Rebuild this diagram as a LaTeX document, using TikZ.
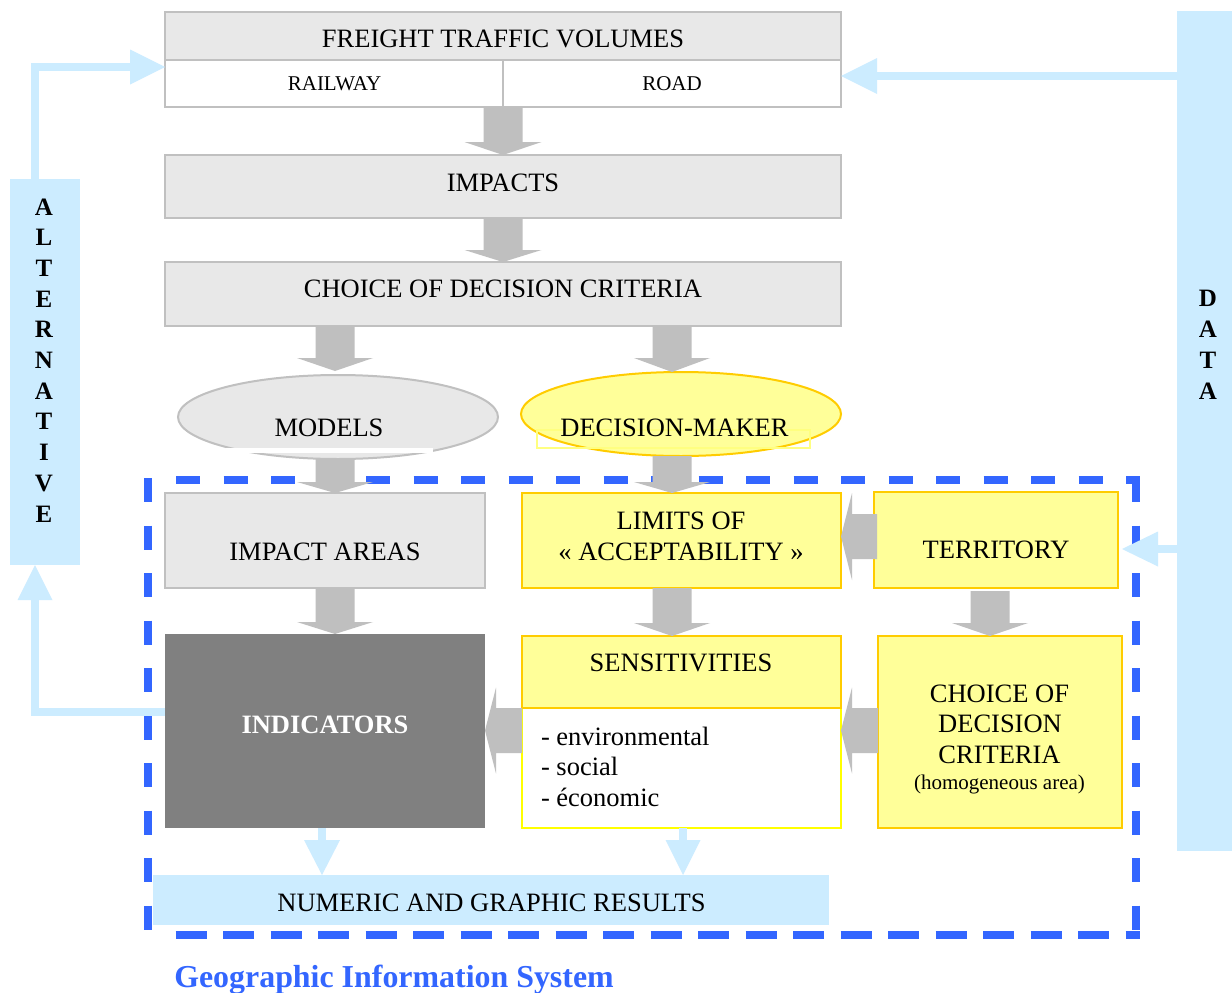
\documentclass[tikz,border=0pt]{standalone}
\usepackage{fontspec}
\setmainfont{Liberation Serif}
\usetikzlibrary{shapes.geometric,calc}
\definecolor{boxgray}{HTML}{E8E8E8}
\definecolor{bordergray}{HTML}{C0C0C0}
\definecolor{arrowgray}{HTML}{BFBFBF}
\definecolor{yel}{HTML}{FFFF99}
\definecolor{yelborder}{HTML}{FFCC00}
\definecolor{yelline}{HTML}{FFFF00}
\definecolor{lblue}{HTML}{CCECFF}
\definecolor{dblue}{HTML}{3366FF}
\definecolor{indgray}{HTML}{808080}
\definecolor{paleyel}{HTML}{FFFF80}
\newcommand\fmain{\fontsize{26.5}{31}\selectfont}
\newcommand\fsmall{\fontsize{21}{25}\selectfont}
\newcommand\fletter{\fontsize{25}{30}\selectfont\bfseries}
\newcommand\blockdown[5]{%
  \fill[arrowgray] let \p1=(#1), \p2=(#2) in
   (\x1-#3/2,\y1) -- (\x1-#3/2,\y2+#5) -- (\x1-#4/2,\y2+#5) -- (\x1,\y2) --
   (\x1+#4/2,\y2+#5) -- (\x1+#3/2,\y2+#5) -- (\x1+#3/2,\y1) -- cycle;}
\newcommand\blockleft[5]{%
  \fill[arrowgray] let \p1=(#1), \p2=(#2) in
   (\x1,\y1+#3/2) -- (\x2+#5,\y1+#3/2) -- (\x2+#5,\y1+#4/2) -- (\x2,\y1) --
   (\x2+#5,\y1-#4/2) -- (\x2+#5,\y1-#3/2) -- (\x1,\y1-#3/2) -- cycle;}
\newcommand\bluehead[3]{%
  \fill[lblue] ($(#1)!#3!90:(#2)$) -- (#2) -- ($(#1)!#3!-90:(#2)$) -- cycle;}
\begin{document}
\begin{tikzpicture}[x=1pt,y=-1pt,
  box/.style={rectangle, inner sep=0pt, outer sep=0pt, line width=2pt},
  graybox/.style={box, draw=bordergray, fill=boxgray},
  whitebox/.style={box, draw=bordergray, fill=white},
  yelbox/.style={box, draw=yelborder, fill=yel},
  bluebar/.style={box, fill=lblue},
  txt/.style={inner sep=0pt, outer sep=0pt, anchor=base, font=\fmain},
  stxt/.style={txt, font=\fsmall},
  blueline/.style={draw=lblue, line width=8pt},
  gisdash/.style={draw=dblue, line width=8pt, dash pattern=on 24pt off 23.5pt},
]
\useasboundingbox (0,0) rectangle (1232,993);
\fill[white] (0,0) rectangle (1232,993);

% GIS dashed frame
\draw[gisdash] (176,480) -- (1140,480);
\draw[gisdash] (148,478) -- (148,939);
\draw[gisdash] (1136,478) -- (1136,939);
\draw[draw=dblue, line width=8pt, dash pattern=on 31pt off 16.5pt] (175.5,935) -- (1140,935);

% side bars
\node[bluebar, minimum width=70, minimum height=386] (alt) at (45,372) {};
\node[bluebar, minimum width=55, minimum height=840] (data) at (1204.5,431) {};

% boxes
\node[graybox, minimum width=676, minimum height=48] (freight) at (503,36) {};
\node[whitebox, minimum width=338, minimum height=47] (railway) at (334,83.5) {};
\node[whitebox, minimum width=338, minimum height=47] (road) at (672,83.5) {};
\node[graybox, minimum width=676, minimum height=63] (impacts) at (503,186.5) {};
\node[graybox, minimum width=676, minimum height=64] (choice) at (503,294) {};
\node[ellipse, draw=bordergray, fill=boxgray, line width=2pt, inner sep=0pt, outer sep=0pt,
      minimum width=320, minimum height=84] (models) at (338,417) {};
\fill[white] (226,447.5) rectangle (433,453);
\node[ellipse, draw=yelborder, fill=yel, line width=2pt, inner sep=0pt, outer sep=0pt,
      minimum width=320, minimum height=84] (dm) at (681,414) {};
\draw[paleyel, line width=1.5pt] (537,430) rectangle (810,448);
\node[graybox, minimum width=320, minimum height=95] (impactareas) at (325,540.5) {};
\node[yelbox, minimum width=319, minimum height=95] (limits) at (681.5,540.5) {};
\node[yelbox, minimum width=244, minimum height=96] (territory) at (996,540) {};
\node[box, fill=indgray, minimum width=320, minimum height=194] (indicators) at (325,731) {};
\node[box, draw=yelline, fill=white, minimum width=319, minimum height=120] (senslow) at (681.5,768) {};
\node[yelbox, minimum width=319, minimum height=72] (sensup) at (681.5,672) {};
\node[yelbox, minimum width=244, minimum height=192] (choice2) at (1000,732) {};
\node[bluebar, minimum width=676, minimum height=50] (numeric) at (491,900) {};

% gray block arrows
\coordinate (c1s) at (335,326); \coordinate (c1t) at (335,371);
\coordinate (d1s) at (672,326); \coordinate (d1t) at (672,372);
\coordinate (e1s) at (335,459); \coordinate (e1t) at (335,493);
\coordinate (f1s) at (672,456); \coordinate (f1t) at (672,493);
\coordinate (g1s) at (335,588); \coordinate (g1t) at (335,634);
\coordinate (h1s) at (672,588); \coordinate (h1t) at (672,636);
\coordinate (i1s) at (990,591); \coordinate (i1t) at (990,636);
\coordinate (j1s) at (877,536.5); \coordinate (j1t) at (841,536.5);
\coordinate (k1s) at (878,730.5); \coordinate (k1t) at (841,730.5);
\coordinate (l1s) at (522,730.5); \coordinate (l1t) at (485,730.5);
\blockdown{railway.south east}{impacts.north}{39}{77}{13}
\blockdown{impacts.south}{choice.north}{39}{77}{12}
\blockdown{c1s}{c1t}{39}{76}{13}
\blockdown{d1s}{d1t}{39}{76}{14}
\blockdown{e1s}{e1t}{39}{76}{11}
\blockdown{f1s}{f1t}{39}{76}{11}
\blockdown{g1s}{g1t}{39}{76}{12}
\blockdown{h1s}{h1t}{39}{76}{13}
\blockdown{i1s}{i1t}{39}{76}{13}
\blockleft{j1s}{j1t}{45}{87}{11}
\blockleft{k1s}{k1t}{45}{86}{11}
\blockleft{l1s}{l1t}{45}{86}{11}

% light blue connectors
\coordinate (altA) at (35,179); \coordinate (altB) at (35,67);
\coordinate (altC) at (130,67); \coordinate (altT) at (165,67);
\draw[blueline] (altA) -- (altB) -- (altC);
\bluehead{altC}{altT}{17.5pt}
\coordinate (indL) at (165,712); \coordinate (altD) at (35,712);
\coordinate (altE) at (35,600); \coordinate (altF) at (35,565);
\draw[blueline] (indL) -- (altD) -- (altE);
\bluehead{altE}{altF}{17.5pt}
\coordinate (datA) at (1177,76); \coordinate (datB) at (877,76); \coordinate (datT) at (841,76);
\draw[blueline] (datA) -- (datB);
\bluehead{datB}{datT}{18pt}
\coordinate (datC) at (1177,549); \coordinate (datD) at (1158,549); \coordinate (datU) at (1122,549);
\draw[blueline] (datC) -- (datD);
\bluehead{datD}{datU}{17.5pt}
\coordinate (nA) at (322,828); \coordinate (nB) at (322,840); \coordinate (nT) at (322,875);
\draw[blueline] (nA) -- (nB);
\bluehead{nB}{nT}{18pt}
\coordinate (nC) at (683,828); \coordinate (nD) at (683,840); \coordinate (nU) at (683,875);
\draw[blueline] (nC) -- (nD);
\bluehead{nD}{nU}{17.5pt}

% texts
\node[txt] (tfreight) at (503,47) {FREIGHT TRAFFIC VOLUMES};
\node[stxt] (trail) at (334.5,90) {RAILWAY};
\node[stxt] (troad) at (672,90) {ROAD};
\node[txt] (timp) at (503,191) {IMPACTS};
\node[txt] (tchoice) at (503,297) {CHOICE OF DECISION CRITERIA};
\node[txt] (tmodels) at (329,436) {MODELS};
\node[txt] (tdm) at (674.5,436) {DECISION-MAKER};
\node[txt] (tia) at (325,560) {IMPACT AREAS};
\node[txt] (tlim1) at (681,529) {LIMITS OF};
\node[txt] (tlim2) at (681,560) {« ACCEPTABILITY »};
\node[txt] (tterr) at (996,558) {TERRITORY};
\node[txt, text=white, font=\fmain\bfseries] (tind) at (325,733) {INDICATORS};
\node[txt] (tsens) at (681,671) {SENSITIVITIES};
\node[txt, anchor=base west] (tenv) at (541,745) {- environmental};
\node[txt, anchor=base west] (tsoc) at (541,775) {- social};
\node[txt, anchor=base west] (teco) at (541,806) {- économic};
\node[txt] (tc1) at (999.5,702) {CHOICE OF};
\node[txt] (tc2) at (1000,732) {DECISION};
\node[txt] (tc3) at (999.5,763) {CRITERIA};
\node[stxt] (tc4) at (999.5,789) {(homogeneous area)};
\node[txt] (tnum) at (491.5,911) {NUMERIC AND GRAPHIC RESULTS};
\node[txt, text=dblue, font=\fontsize{31.9}{37}\selectfont\bfseries] (tgis) at (394,987) {Geographic Information System};
\foreach \l [count=\i from 0] in {A,L,T,E,R,N,A,T,I,V,E}
  \node[txt, font=\fletter] (alt\i) at (44,215+30.7*\i) {\l};
\foreach \l [count=\i from 0] in {D,A,T,A}
  \node[txt, font=\fletter] (data\i) at (1208,306+31*\i) {\l};
\end{tikzpicture}
\end{document}
